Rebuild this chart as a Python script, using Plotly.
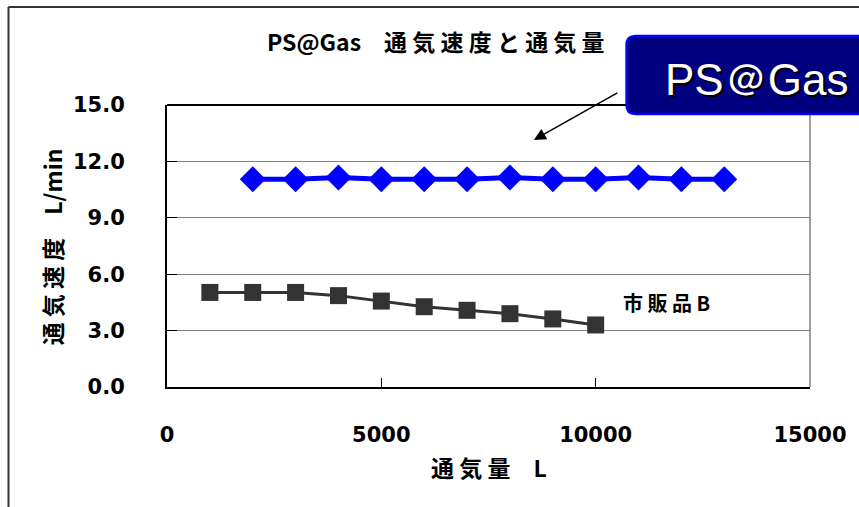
import plotly.graph_objects as go

# ---- data ----
ps_x = [2000, 3000, 4000, 5000, 6000, 7000, 8000, 9000, 10000, 11000, 12000, 13000]
ps_y = [11.05, 11.05, 11.15, 11.05, 11.05, 11.05, 11.15, 11.05, 11.05, 11.15, 11.05, 11.05]
b_x = [1000, 2000, 3000, 4000, 5000, 6000, 7000, 8000, 9000, 10000]
b_y = [5.03, 5.03, 5.03, 4.86, 4.57, 4.27, 4.08, 3.90, 3.62, 3.30]
x_ticks = [0, 5000, 10000, 15000]
x_tick_labels = ["0", "5000", "10000", "15000"]
y_ticks = [0, 3, 6, 9, 12, 15]
y_tick_labels = ["0.0", "3.0", "6.0", "9.0", "12.0", "15.0"]

title_text = "PS@Gas　通 気 速 度 と 通 気 量"
xtitle_text = "通 気 量　L"
ytitle_text = "通 気 速 度　L/min"
label_b = "市 販 品 B"
badge_text = "PS＠Gas"

W, H = 859, 507
L, R, T, B = 167, 812, 105, 387  # plot area in pixels


def px(x):
    return (x - L) / (R - L)


def py(y):
    return (B - y) / (B - T)


CJK = "Noto Sans CJK JP"
TICKF = "DejaVu Sans"

fig = go.Figure()
fig.add_trace(go.Scatter(
    x=b_x, y=b_y, mode="lines+markers",
    line=dict(color="#333333", width=3),
    marker=dict(symbol="square", size=17, color="#333333"),
    showlegend=False))
fig.add_trace(go.Scatter(
    x=ps_x, y=ps_y, mode="lines+markers",
    line=dict(color="#0000ff", width=5),
    marker=dict(symbol="diamond", size=20, color="#0000ff"),
    showlegend=False))

fig.update_layout(
    width=W, height=H,
    margin=dict(l=L, r=W - R, t=T, b=H - B),
    paper_bgcolor="white", plot_bgcolor="white",
    xaxis=dict(range=[0, 15000], tickvals=x_ticks, ticktext=x_tick_labels,
               ticks="inside", ticklen=9,
               tickcolor="black", tickwidth=1, showgrid=False, zeroline=False,
               showline=True, linecolor="black", linewidth=2,
               ticklabelstandoff=28,
               tickfont=dict(family=TICKF, size=21, color="black", weight="bold")),
    yaxis=dict(range=[0, 15], tickvals=y_ticks, ticktext=y_tick_labels,
               ticks="inside", ticklen=10, tickcolor="black", tickwidth=1,
               showgrid=True, gridcolor="#808080", gridwidth=1, zeroline=False,
               showline=True, linecolor="black", linewidth=2,
               ticklabelstandoff=36,
               tickfont=dict(family=TICKF, size=21, color="black", weight="bold")),
)

shapes = [
    # top and right edges of plot area
    dict(type="line", xref="paper", yref="paper", x0=0, x1=1, y0=1, y1=1,
         line=dict(color="black", width=2)),
    dict(type="line", xref="paper", yref="paper", x0=1, x1=1, y0=0, y1=1,
         line=dict(color="#808080", width=1.5)),
    # outer chart border (top and left)
    dict(type="line", xref="paper", yref="paper", x0=px(8), x1=px(870), y0=py(7), y1=py(7),
         line=dict(color="#333333", width=2)),
    dict(type="line", xref="paper", yref="paper", x0=px(8), x1=px(8), y0=py(7), y1=py(520),
         line=dict(color="#333333", width=2)),
]

# rounded badge box
bx0, bx1, by0, by1, rr = 628, 880, 36, 114, 9
path = (f"M {px(bx0 + rr)},{py(by0)} L {px(bx1)},{py(by0)} L {px(bx1)},{py(by1)} "
        f"L {px(bx0 + rr)},{py(by1)} Q {px(bx0)},{py(by1)} {px(bx0)},{py(by1 - rr)} "
        f"L {px(bx0)},{py(by0 + rr)} Q {px(bx0)},{py(by0)} {px(bx0 + rr)},{py(by0)} Z")
shapes.append(dict(type="path", xref="paper", yref="paper", path=path,
                   fillcolor="#000080", line=dict(color="#0000ff", width=2.5)))
fig.update_layout(shapes=shapes)

annotations = [
    dict(text=title_text, xref="paper", yref="paper", x=px(437), y=py(41),
         xanchor="center", yanchor="middle", showarrow=False,
         font=dict(family=CJK, size=23, color="black", weight="bold")),
    dict(text=xtitle_text, xref="paper", yref="paper", x=px(490), y=py(467),
         xanchor="center", yanchor="middle", showarrow=False,
         font=dict(family=CJK, size=23, color="black", weight="bold")),
    dict(text=ytitle_text, xref="paper", yref="paper", x=px(52), y=py(247),
         xanchor="center", yanchor="middle", showarrow=False, textangle=-90,
         font=dict(family=CJK, size=23, color="black", weight="bold")),
    dict(text=label_b, xref="paper", yref="paper", x=px(622), y=py(302),
         xanchor="left", yanchor="middle", showarrow=False,
         font=dict(family=CJK, size=20, color="black", weight="bold")),
    dict(text=badge_text, xref="paper", yref="paper", x=px(758), y=py(80),
         xanchor="center", yanchor="middle", showarrow=False,
         font=dict(family="Liberation Sans", size=44, color="white",
                   shadow="2px 2px 0px #000000")),
    # arrow
    dict(text="", xref="paper", yref="paper", x=px(535), y=py(140),
         ax=85, ay=-48, showarrow=True, arrowhead=2, arrowsize=1.6,
         arrowwidth=1.5, arrowcolor="black"),
]
fig.update_layout(annotations=annotations)

fig.write_html("out.html")
